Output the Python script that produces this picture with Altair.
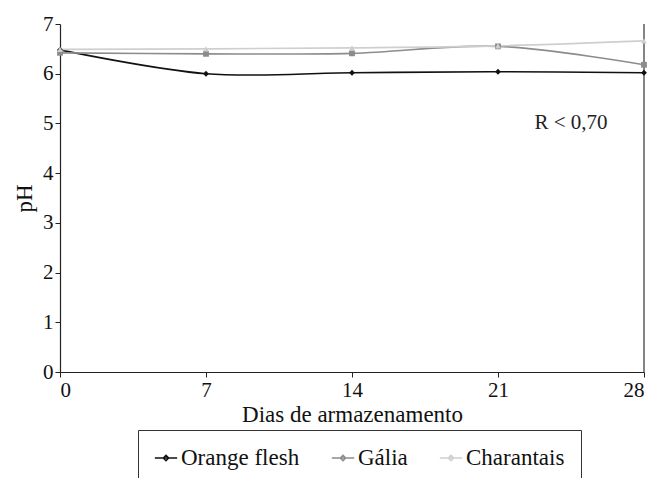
import altair as alt
import pandas as pd

days = [0, 7, 14, 21, 28]
orange_flesh = [6.48, 6.00, 6.02, 6.04, 6.02]
galia = [6.42, 6.40, 6.41, 6.55, 6.18]
charantais = [6.49, 6.50, 6.52, 6.56, 6.66]
series_names = ["Orange flesh", "Gália", "Charantais"]
series_colors = ["#111111", "#8c8c8c", "#cfcfcf"]
series_shapes = ["diamond", "square", "triangle-up"]
legend_symbol = "M-1,0H1M-0.24,0L0,-0.24L0.24,0L0,0.24Z"

rows = []
for name, vals in zip(series_names, [orange_flesh, galia, charantais]):
    for d, v in zip(days, vals):
        rows.append({"dia": d, "pH": v, "serie": name})
df = pd.DataFrame(rows)

note_df = pd.DataFrame({"x": [24.5], "y": [5.0], "label": ["R < 0,70"]})

FONT = "Liberation Serif"

x_enc = alt.X("dia:Q", scale=alt.Scale(domain=[0, 28], nice=False),
              axis=alt.Axis(values=days, title="Dias de armazenamento", grid=False))
y_enc = alt.Y("pH:Q", scale=alt.Scale(domain=[0, 7], nice=False),
              axis=alt.Axis(values=list(range(8)), title="pH", grid=False))

lines = alt.Chart(df).mark_line(interpolate="catmull-rom", strokeWidth=1.6).encode(
    x=x_enc, y=y_enc,
    stroke=alt.Stroke("serie:N", scale=alt.Scale(domain=series_names, range=series_colors),
                      legend=None),
)

marker_layers = []
for name, col, shp in zip(series_names, series_colors, series_shapes):
    marker_layers.append(
        alt.Chart(df).transform_filter(alt.datum.serie == name)
        .mark_point(filled=True, size=34, opacity=1, shape=shp, color=col)
        .encode(x="dia:Q", y="pH:Q")
    )

right_rule = alt.Chart(note_df).mark_rule(color="#333", strokeWidth=1.2).encode(
    x=alt.datum(28), y=alt.datum(0), y2=alt.datum(7)
)

note = alt.Chart(note_df).mark_text(font=FONT, fontSize=21, color="#222").encode(
    x="x:Q", y="y:Q", text="label:N"
)

main = alt.layer(right_rule, lines, *marker_layers, note).properties(width=584, height=348)

# legend-only panel: its points lie outside its own scale domain and are clipped away
legend_chart = alt.Chart(df).mark_point(filled=False, strokeWidth=1.5, clip=True).encode(
    x=alt.X("dia:Q", scale=alt.Scale(domain=[100, 101]), axis=None),
    y=alt.Y("pH:Q", scale=alt.Scale(domain=[100, 101]), axis=None),
    color=alt.Color("serie:N", scale=alt.Scale(domain=series_names, range=series_colors),
                    sort=series_names,
                    legend=alt.Legend(
                        title=None, orient="none", direction="horizontal",
                        legendX=78, legendY=4,
                        symbolType=legend_symbol, symbolSize=500,
                        symbolStrokeWidth=1.5, symbolOpacity=1,
                        labelFont=FONT, labelFontSize=23, labelColor="#111",
                        strokeColor="#333", padding=16, columnPadding=28,
                        labelOffset=3,
                    )),
).properties(width=1, height=1)

chart = alt.vconcat(main, legend_chart, spacing=0).resolve_scale(
    x="independent", y="independent", color="independent", stroke="independent"
).resolve_legend(color="independent").configure_view(stroke=None).configure_axis(
    domainColor="#222", tickColor="#222", domainWidth=1.2, tickSize=5,
    labelFont=FONT, labelFontSize=21, labelColor="#111",
    titleFont=FONT, titleFontSize=23, titleColor="#111", titleFontWeight="normal",
    labelPadding=2,
).configure_axisX(titlePadding=3).configure_axisY(titlePadding=6).configure_legend(
    labelFont=FONT, labelFontSize=23, labelColor="#111"
)

chart.save("out.html", embed_options={"renderer": "svg", "actions": False})
